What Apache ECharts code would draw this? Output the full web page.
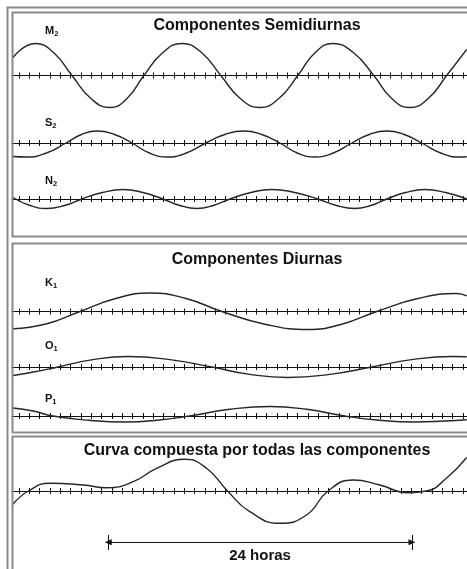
<!DOCTYPE html>
<html>
<head>
<meta charset="utf-8">
<script src="https://cdn.jsdelivr.net/npm/echarts/dist/echarts.min.js"></script>
<style>html,body{margin:0;padding:0;background:#fff}#c{width:467px;height:569px}</style>
</head>
<body>
<div id="c"></div>
<script>
// x values are in tick units (one tick mark = 1 unit); y values are relative wave heights
const titles = ['Componentes Semidiurnas', 'Componentes Diurnas', 'Curva compuesta por todas las componentes'];
const waveNames = [['M', '2'], ['S', '2'], ['N', '2'], ['K', '1'], ['O', '1'], ['P', '1']];
const m2 = [[0.42,18],[2.55,32],[4.34,23],[6.13,0],[7.97,-23],[9.81,-32],[11.46,-23],[13.10,0],[14.94,23],[16.78,32],[18.67,23],[20.55,0],[22.44,-23],[24.33,-32],[26.17,-23],[28.01,0],[29.70,23],[31.40,32],[33.38,23],[35.37,0],[37.11,-23],[38.85,-32],[40.64,-23],[42.43,0],[44.37,26]];
const s2 = [[0.42,-13.5],[1.77,-14],[3.66,-10],[5.55,0],[7.05,8.5],[8.55,12],[10.25,8.5],[11.94,0],[13.63,-10],[15.33,-14],[17.22,-10],[19.10,0],[20.94,8.5],[22.78,12],[24.52,8.5],[26.27,0],[27.96,-10],[29.66,-14],[31.45,-10],[33.24,0],[34.93,8.5],[36.63,12],[38.32,8.5],[40.01,0],[41.85,-10],[43.69,-14],[44.37,-13.8]];
const n2 = [[0.42,1.5],[2.07,-6.5],[3.71,-9.5],[5.41,-6.5],[7.10,0],[9.08,6.5],[11.07,9.5],[13.00,6.5],[14.94,0],[16.59,-6.5],[18.23,-9.5],[19.83,-6.5],[21.43,0],[23.46,6.5],[25.49,9.5],[27.72,6.5],[29.95,0],[31.74,-6.5],[33.53,-9.5],[35.08,-6.5],[36.63,0],[38.46,6.5],[40.30,9.5],[42.34,6.5],[44.37,0]];
const k1 = [[0.42,-17.3],[3.61,-12.5],[6.91,0],[10.29,12.7],[13.68,18.5],[17.17,13],[20.65,0],[24.82,-12.7],[28.98,-18],[32.27,-12.7],[35.66,0],[39.53,12.7],[43.40,18],[44.37,15.5]];
const o1 = [[0.42,-8.5],[2.55,-4.8],[4.78,0],[8.16,7.4],[11.55,10.5],[15.62,7.4],[19.68,0],[23.36,-7.4],[27.04,-10.5],[31.11,-7.4],[35.17,0],[39.05,7.4],[43.01,10.5],[44.37,10.2]];
const p1 = [[0.42,8],[2.36,5],[4.29,0],[7.78,-4.3],[11.26,-6],[14.36,-4.3],[17.55,0],[21.43,6.7],[25.30,9.5],[28.88,6.7],[32.56,0],[35.95,-4.3],[39.34,-6],[42.24,-5],[44.37,-3.8]];
const composite = [[0.42,-13.3],[1.90,0],[4.00,7.7],[7.23,6],[9.49,3.3],[12.07,9.3],[14.33,22.7],[17.07,31.7],[19.17,22.7],[21.20,0],[23.36,-20.7],[26.27,-32.3],[28.85,-24],[30.94,0],[33.36,11],[35.95,6],[38.69,-1.7],[40.47,0],[42.40,12.7],[44.37,33.5]];
const arrowLabel = '24 horas';
const arrowStart = 9.645, arrowEnd = 39.07;
const xMax = 44.4;

const FONT = '"Liberation Sans", Arial, Helvetica, sans-serif';
const INK = '#111';
const X0 = 8.67, UNIT = 10.33;

// layout of each strip: axis pixel row, extent above / below the axis
const strips = [
  {data: m2, axisY: 75.5, up: 36, down: 36, labelY: 31, name: waveNames[0]},
  {data: s2, axisY: 143, up: 16, down: 16, labelY: 123.3, name: waveNames[1]},
  {data: n2, axisY: 199, up: 12, down: 12, labelY: 181, name: waveNames[2]},
  {data: k1, axisY: 311.5, up: 21, down: 21, labelY: 283, name: waveNames[3]},
  {data: o1, axisY: 367, up: 13, down: 13, labelY: 345.5, name: waveNames[4]},
  {data: p1, axisY: 416, up: 12, down: 12, labelY: 399, name: waveNames[5]},
  {data: composite, axisY: 491, up: 36, down: 62, labelY: null, name: null}
];

const grid = [], xAxis = [], xAxisTop = [], yAxis = [], series = [];
strips.forEach((s, i) => {
  grid.push({left: X0, top: s.axisY - s.up, width: UNIT * xMax, height: s.up + s.down});
  const base = {
    gridIndex: i, type: 'value', min: 0, max: xMax, interval: 1,
    axisLabel: {show: false}, splitLine: {show: false}
  };
  xAxis.push(Object.assign({}, base, {
    position: 'bottom',
    axisLine: {show: true, onZero: true, onZeroAxisIndex: i, lineStyle: {color: INK, width: 1}},
    axisTick: {show: true, length: 3, lineStyle: {color: INK, width: 1}}
  }));
  xAxisTop.push(Object.assign({}, base, {
    position: 'top',
    axisLine: {show: false, onZero: true, onZeroAxisIndex: i},
    axisTick: {show: true, length: 3, lineStyle: {color: INK, width: 1}}
  }));
  yAxis.push({gridIndex: i, type: 'value', min: -s.down, max: s.up, show: false, axisLine: {onZero: false}});
  const ser = {
    type: 'line', xAxisIndex: i, yAxisIndex: i, data: s.data, smooth: 0.5,
    symbol: 'none', silent: true, clip: true,
    lineStyle: {color: '#262626', width: 1.4}
  };
  if (i === strips.length - 1) {
    const arrowY = -51.3, barTop = -44, barBottom = -59;
    ser.markLine = {
      silent: true, animation: false,
      symbol: ['triangle', 'triangle'], symbolSize: [6, 7],
      lineStyle: {color: INK, width: 1, type: 'solid'},
      label: {show: false},
      emphasis: {disabled: true},
      data: [
        [{coord: [arrowStart, arrowY], label: {show: true, formatter: arrowLabel, position: 'insideMiddleBottom', distance: 6, fontSize: 15, fontWeight: 'bold', fontFamily: FONT, color: INK}},
         {coord: [arrowEnd, arrowY]}],
        [{coord: [arrowStart, barTop], symbol: 'none'}, {coord: [arrowStart, barBottom], symbol: 'none'}],
        [{coord: [arrowEnd, barTop], symbol: 'none'}, {coord: [arrowEnd, barBottom], symbol: 'none'}]
      ]
    };
  }
  series.push(ser);
});

const graphic = [];
const border = '#8a8a8a';
graphic.push({type: 'rect', z: 99, silent: true, shape: {x: 0, y: 0, width: 11.5, height: 620}, style: {fill: '#fff'}});
graphic.push({type: 'rect', z: 100, silent: true, shape: {x: 7.5, y: 7.5, width: 520, height: 620}, style: {fill: 'none', stroke: border, lineWidth: 2}});
[[12.5, 224], [243.5, 189], [436.5, 200]].forEach(p => {
  graphic.push({type: 'rect', z: 100, silent: true, shape: {x: 12.5, y: p[0], width: 520, height: p[1]}, style: {fill: 'none', stroke: border, lineWidth: 2}});
});
[[titles[0], 25.5], [titles[1], 260], [titles[2], 451]].forEach(t => {
  graphic.push({type: 'text', z: 100, silent: true, x: 257, y: t[1],
    style: {text: t[0], fontSize: 16, fontWeight: 'bold', fontFamily: FONT, fill: INK, align: 'center', verticalAlign: 'middle'}});
});
strips.forEach(s => {
  if (!s.name) return;
  graphic.push({type: 'text', z: 100, silent: true, x: 45, y: s.labelY,
    style: {text: s.name[0] + '{s|' + s.name[1] + '}', fontSize: 11, fontWeight: 'bold', fontFamily: FONT, fill: INK,
      align: 'left', verticalAlign: 'middle', lineHeight: 14,
      rich: {s: {fontSize: 7.5, fontWeight: 'bold', fontFamily: FONT, fill: INK, verticalAlign: 'bottom', lineHeight: 8}}}});
});

const chart = echarts.init(document.getElementById('c'), null, {renderer: 'canvas'});
chart.setOption({
  backgroundColor: '#fff',
  animation: false,
  grid: grid,
  xAxis: xAxis.concat(xAxisTop),
  yAxis: yAxis,
  series: series,
  graphic: graphic
});
</script>
</body>
</html>
